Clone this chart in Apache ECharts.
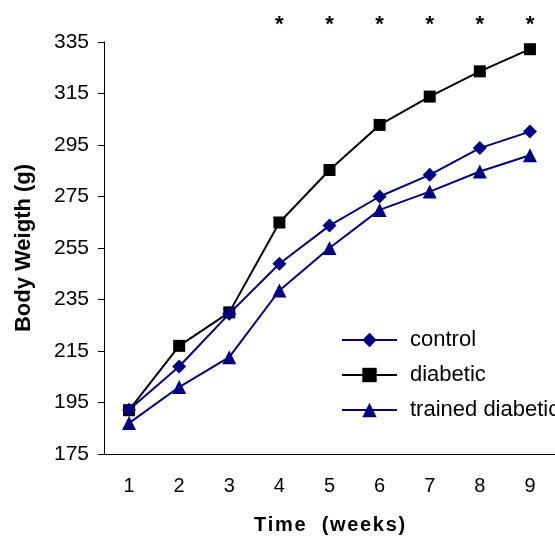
<!DOCTYPE html>
<html><head><meta charset="utf-8">
<script src="https://cdn.jsdelivr.net/npm/echarts@6/dist/echarts.min.js"></script>
<style>html,body{margin:0;padding:0;background:#fff}#c{width:555px;height:541px}</style>
</head><body><div id="c"></div>
<script>
const weeks = ['1','2','3','4','5','6','7','8','9'];
const control = [192.2, 209, 229.5, 248.9, 263.7, 275.0, 283.4, 293.8, 300.2];
const diabetic = [192, 217, 230, 264.9, 285.3, 302.8, 313.8, 323.6, 332.2];
const trainedDiabetic = [187, 201, 212.6, 238.5, 255, 269.8, 276.9, 284.7, 291];
const significance = ['', '', '', '*', '*', '*', '*', '*', '*'];
const yTicks = [175, 195, 215, 235, 255, 275, 295, 315, 335];

const F = '"Liberation Sans", Arial, sans-serif';
const spaced = s => s.split('').join('\u200A');
const chart = echarts.init(document.getElementById('c'), null, {renderer: 'canvas'});
chart.setOption({
  animation: false,
  backgroundColor: '#fff',
  grid: {left: 104, top: 42, width: 461, height: 412},
  legend: {
    orient: 'vertical', left: 336, top: 324, itemWidth: 55, itemHeight: 18, itemGap: 13,
    textStyle: {fontFamily: F, fontSize: 22, color: '#000', padding: [0, 0, 0, 8]},
    data: ['control', 'diabetic', 'trained diabetic']
  },
  xAxis: [{
    type: 'category', data: weeks, boundaryGap: true,
    axisLine: {lineStyle: {color: '#000', width: 1}},
    axisTick: {length: 6, lineStyle: {color: '#000'}},
    axisLabel: {fontFamily: F, fontSize: 20, color: '#000', margin: 22},
    name: spaced('Time  (weeks)'), nameLocation: 'middle', nameGap: 61,
    nameTextStyle: {fontFamily: F, fontSize: 20, fontWeight: 'bold', color: '#000'}
  }, {
    type: 'category', data: weeks, position: 'top', boundaryGap: true,
    axisLine: {show: false}, axisTick: {show: false},
    axisLabel: {fontFamily: F, fontSize: 22, fontWeight: 'bold', color: '#000', margin: 6,
      formatter: (v, i) => significance[i]}
  }],
  yAxis: {
    type: 'value', min: 175, max: 335,
    axisLine: {show: true, lineStyle: {color: '#000', width: 1}},
    axisTick: {show: true, length: 6, lineStyle: {color: '#000'}, customValues: yTicks},
    axisLabel: {fontFamily: F, fontSize: 21, color: '#000', margin: 15, customValues: yTicks},
    splitLine: {show: false},
    name: 'Body Weigth (g)', nameLocation: 'middle', nameGap: 69,
    nameTextStyle: {fontFamily: F, fontSize: 22, fontWeight: 'bold', color: '#000'}
  },
  series: [
    {name: 'control', type: 'line', data: control, symbol: 'diamond', symbolSize: 14,
     lineStyle: {color: '#000080', width: 2}, itemStyle: {color: '#000080'}, z: 3},
    {name: 'diabetic', type: 'line', data: diabetic, symbol: 'rect', symbolSize: 12,
     lineStyle: {color: '#000', width: 2}, itemStyle: {color: '#000'}, z: 2},
    {name: 'trained diabetic', type: 'line', data: trainedDiabetic, symbol: 'triangle', symbolSize: 14,
     lineStyle: {color: '#000080', width: 2}, itemStyle: {color: '#000080'}, z: 4}
  ]
});
</script></body></html>
